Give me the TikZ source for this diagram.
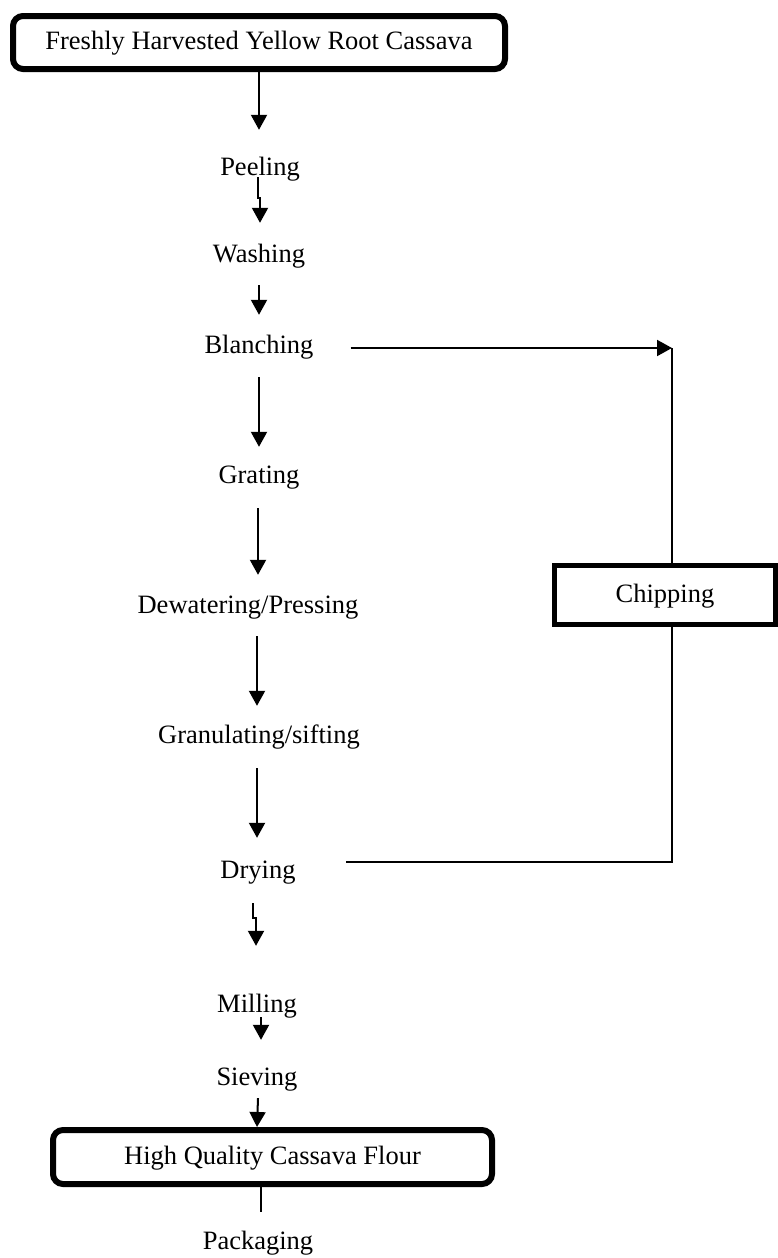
\documentclass[tikz,border=0pt]{standalone}
\usepackage{fontspec}
\setmainfont{Liberation Serif}
\usetikzlibrary{arrows.meta,calc}
\begin{document}
\begin{tikzpicture}[x=1pt,y=-1pt,
  font=\fontsize{26.5}{30}\selectfont,
  lbl/.style={anchor=base,inner sep=0pt,text height=18pt,text depth=6pt},
  rbox/.style={draw,line width=6pt,rounded corners=10pt,inner sep=0pt,text height=18pt,text depth=4pt},
  sbox/.style={draw,line width=5pt,inner sep=0pt,text height=18pt,text depth=4pt},
  arr/.style={line width=2pt,-{Triangle[width=16pt,length=15pt]}},
  ln/.style={line width=2pt}]
\useasboundingbox (0,0) rectangle (778,1258);
% boxes
\node[rbox,minimum width=492pt,minimum height=53pt] (top) at (259,42.5) {Freshly Harvested Yellow Root Cassava};
\node[rbox,minimum width=439pt,minimum height=54pt] (hq) at (272.5,1157) {High Quality Cassava Flour};
\node[sbox,minimum width=221pt,minimum height=59pt] (chip) at (665,595) {Chipping};
% labels
\node[lbl] (peel) at (260,175) {Peeling};
\node[lbl] (wash) at (259,262) {Washing};
\node[lbl] (blan) at (259,353) {Blanching};
\node[lbl] (grat) at (259,483) {Grating};
\node[lbl] (dew) at (248,613) {Dewatering/Pressing};
\node[lbl] (gran) at (259,743) {Granulating/sifting};
\node[lbl] (dry) at (258,878) {Drying};
\node[lbl] (mill) at (257,1012) {Milling};
\node[lbl] (siev) at (257,1085) {Sieving};
\node[lbl] (pack) at (258,1249) {Packaging};
% main flow
\draw[arr] (top.south) -- ($(top.south |- peel.north)+(0,-27)$);
\draw[arr] ($(peel.south)+(-2,-4)$) -- ++(0,21) -- ++(2,0) -- ($(peel.south |- wash.north)+(0,-21)$);
\draw[arr] ($(wash.south)+(0,17)$) -- ($(wash.south |- blan.north)+(0,-20)$);
\draw[arr] ($(blan.south)+(0,18)$) -- ($(blan.south |- grat.north)+(0,-18)$);
\draw[arr] ($(grat.south)+(-1,19)$) -- ($(grat.south |- dew.north)+(-1,-20)$);
\draw[arr] ($(dew.south)+(9,17)$) -- ($(dew.south |- gran.north)+(9,-19)$);
\draw[arr] ($(gran.south)+(-2,19)$) -- ($(gran.south |- dry.north)+(-2,-22)$);
\draw[arr] ($(dry.south)+(-5,19)$) -- ++(0,15) -- ++(3,0) -- ($(dry.south |- mill.north)+(-2,-48)$);
\draw[arr] ($(mill.south)+(4,-1)$) -- ($(mill.south |- siev.north)+(4,-27)$);
\draw[arr] ($(siev.south)+(1,7)$) -- (siev.south |- hq.north);
\coordinate (pk) at (261,1212);
\draw[ln] (hq.south -| pk) -- (pk);
% side loop
\coordinate (c1) at (672,348);
\coordinate (c2) at (672,862);
\coordinate (d1) at (346,862);
\draw[arr] ($(blan.east)+(37,1)$) -- (c1);
\draw[ln] (c1) -- (c1 |- chip.north);
\draw[ln] (c1 |- chip.south) -- (c2) -- (d1);
\end{tikzpicture}
\end{document}
